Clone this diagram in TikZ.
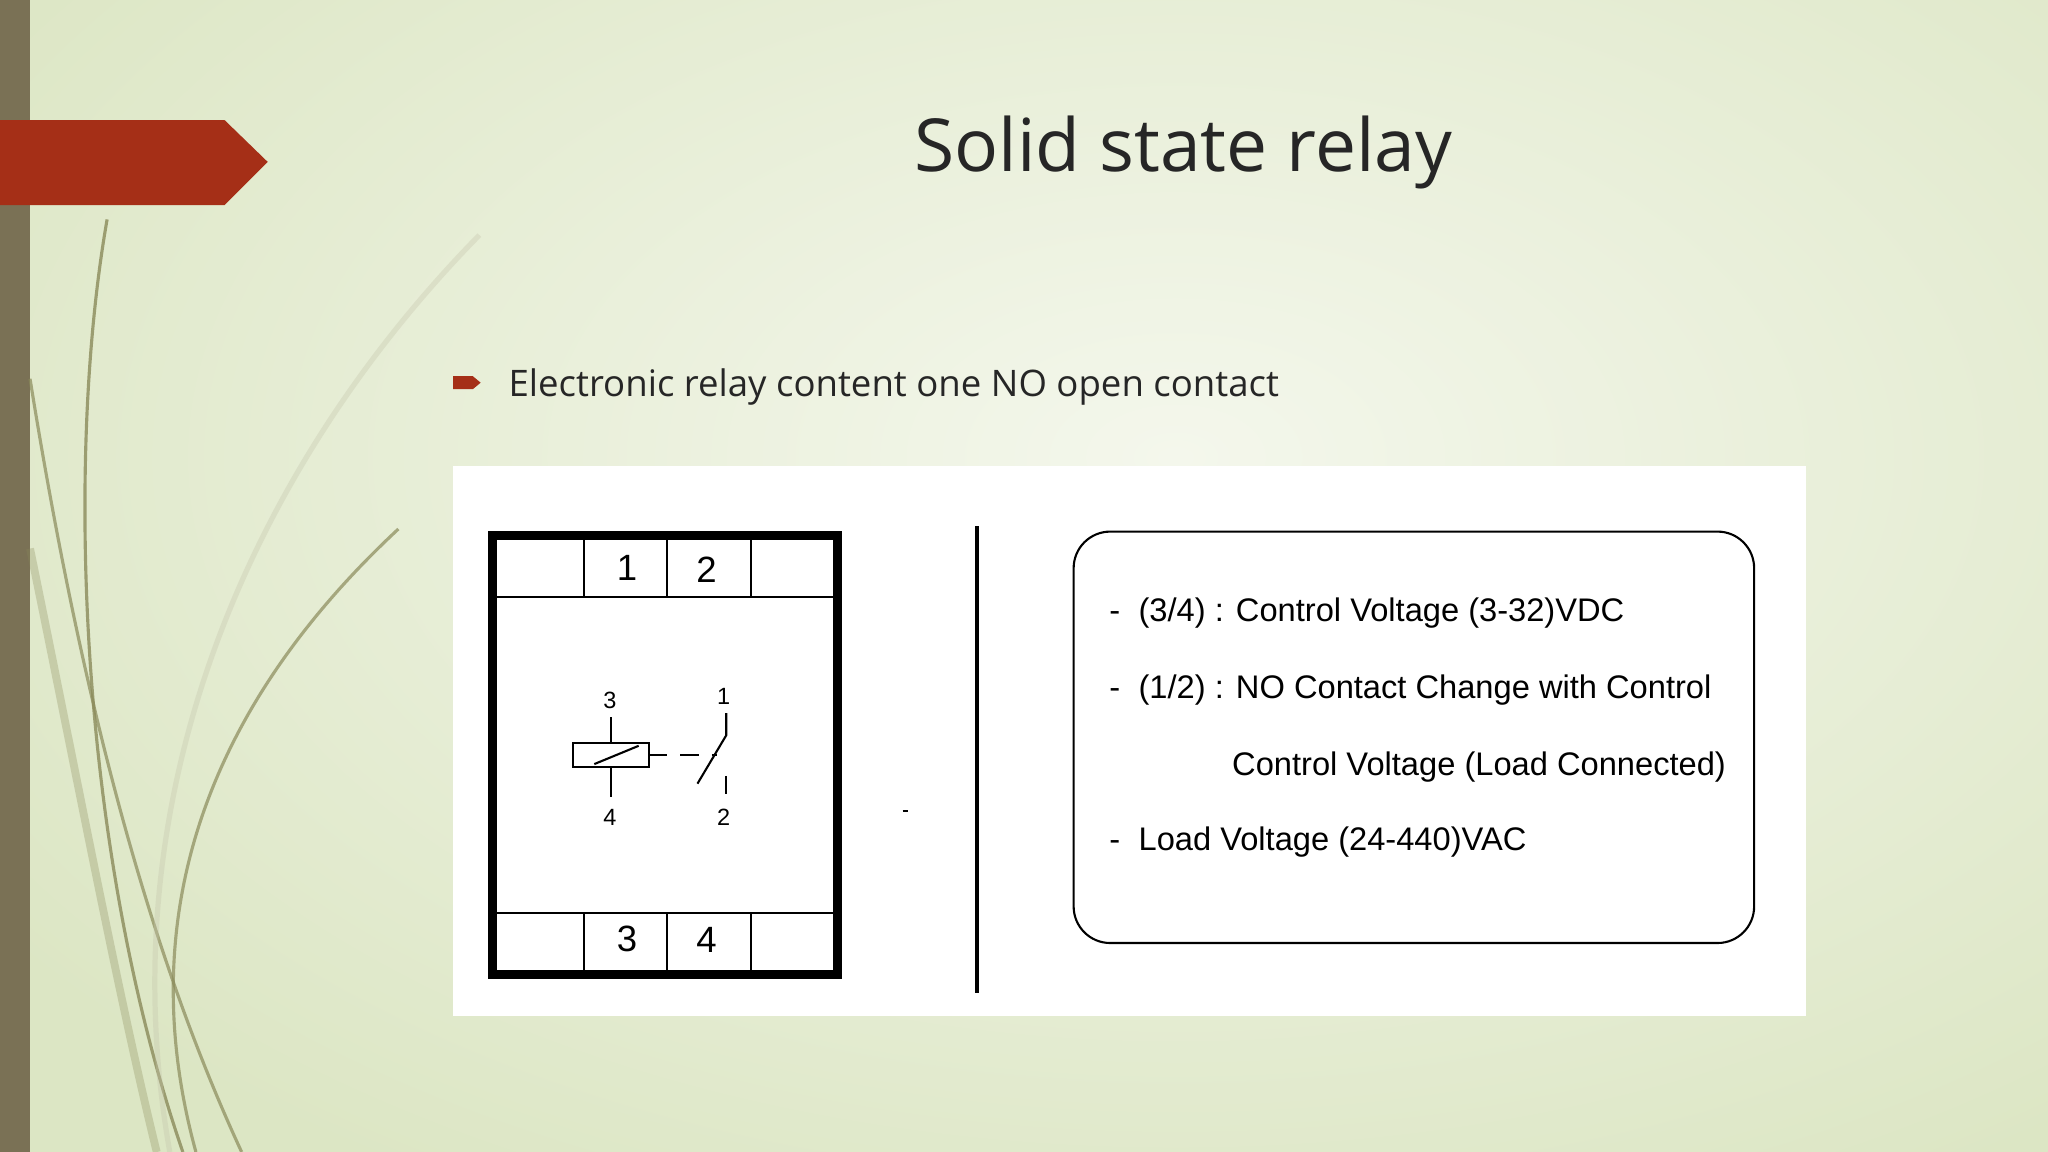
\documentclass[tikz,border=0pt]{standalone}
\usepackage{fontspec}
\setmainfont{Liberation Sans}
\newfontfamily\segoe{Open Sans}
\definecolor{bgA}{HTML}{DCE6C4}
\definecolor{bgB}{HTML}{F4F7EC}
\definecolor{redarr}{HTML}{A52F17}
\definecolor{barc}{HTML}{7A7155}
\definecolor{curvec}{HTML}{8A8A5A}
\begin{document}
\begin{tikzpicture}[x=0.5pt,y=-0.5pt,
  lbl/.style={font=\fontsize{14}{16}\selectfont,inner sep=0},
  sml/.style={font=\fontsize{9}{10}\selectfont,inner sep=0},
  txt/.style={font=\fontsize{12.5}{15}\selectfont,anchor=west,inner sep=0},
  curve/.style={draw=curvec,line width=1.2pt}]
\useasboundingbox (0,0) rectangle (1568,882);
\fill[bgA] (0,0) rectangle (1568,882);
\shade[inner color=bgB, outer color=bgA] (-200,-300) rectangle (2000,1000);
\fill[barc] (0,0) rectangle (23,882);
% decorative curves
\draw[curve,opacity=0.8] (82,168) .. controls (50,350) and (60,650) .. (140,882);
\draw[curve,opacity=0.7] (23,290) .. controls (60,520) and (110,720) .. (185,882);
\draw[curve,opacity=0.35,draw=curvec!50!white,line width=2pt] (367,180) .. controls (200,350) and (80,600) .. (130,882);
\draw[curve,opacity=0.7] (305,405) .. controls (160,540) and (100,700) .. (150,882);
\draw[curve,opacity=0.3,line width=3pt] (23,420) .. controls (60,600) and (90,760) .. (120,882);
\fill[redarr] (0,92) -- (172,92) -- (205,124) -- (172,157) -- (0,157) -- cycle;
\node[font=\segoe\fontsize{28}{32}\selectfont,text=black!85] (title) at (906,117) {Solid state relay};
\fill[redarr] (347,288) -- (362,288) -- (368,293) -- (362,298) -- (347,298) -- cycle;
\node[font=\segoe\fontsize{14}{16}\selectfont,anchor=west,text=black!85,inner sep=0] (bullet) at (389,296) {Electronic relay content one NO open contact};
\fill[white] (347,357) rectangle (1383,778);
% relay box
\draw[line width=3.5pt] (377,410) rectangle (641,746);
\draw[line width=0.8pt] (380,457) -- (638,457) (380,699) -- (638,699);
\foreach \x in {447,511,575}{\draw[line width=0.8pt] (\x,413) -- (\x,457) (\x,699) -- (\x,743);}
\node[lbl] (t1) at (480,435) {1};
\node[lbl] (t2) at (541,436) {2};
\node[lbl] (b3) at (480,719) {3};
\node[lbl] (b4) at (541,720) {4};
% symbol
\node[sml] (s3) at (467,536) {3};
\node[sml] (s4) at (467,626) {4};
\node[sml] (s1) at (554,533) {1};
\node[sml] (s2) at (554,626) {2};
\draw[line width=0.8pt] (439,569) rectangle (497,587);
\draw[line width=0.8pt] (468,549) -- (468,569) (468,587) -- (468,610);
\draw[line width=0.8pt] (455,585) -- (489,571);
\draw[line width=0.8pt,dash pattern=on 7pt off 5pt] (497,578) -- (549,578);
\draw[line width=0.8pt] (556,546) -- (556,563) -- (534,600);
\draw[line width=0.8pt] (556,594) -- (556,608);
\draw[line width=0.5pt] (691,621) -- (695,621);
\draw[line width=1.2pt] (748,403) -- (748,760);
\draw[line width=0.8pt,rounded corners=14pt] (822,407) rectangle (1343,722);
\node[txt] (l1) at (849,469) {-\hspace{7pt}(3/4) : Control Voltage (3-32)VDC};
\node[txt] (l2) at (849,528) {-\hspace{7pt}(1/2) : NO Contact Change with Control};
\node[txt] (l3) at (943,587) {Control Voltage (Load Connected)};
\node[txt] (l4) at (849,645) {-\hspace{7pt}Load Voltage (24-440)VAC};
\end{tikzpicture}
\end{document}
